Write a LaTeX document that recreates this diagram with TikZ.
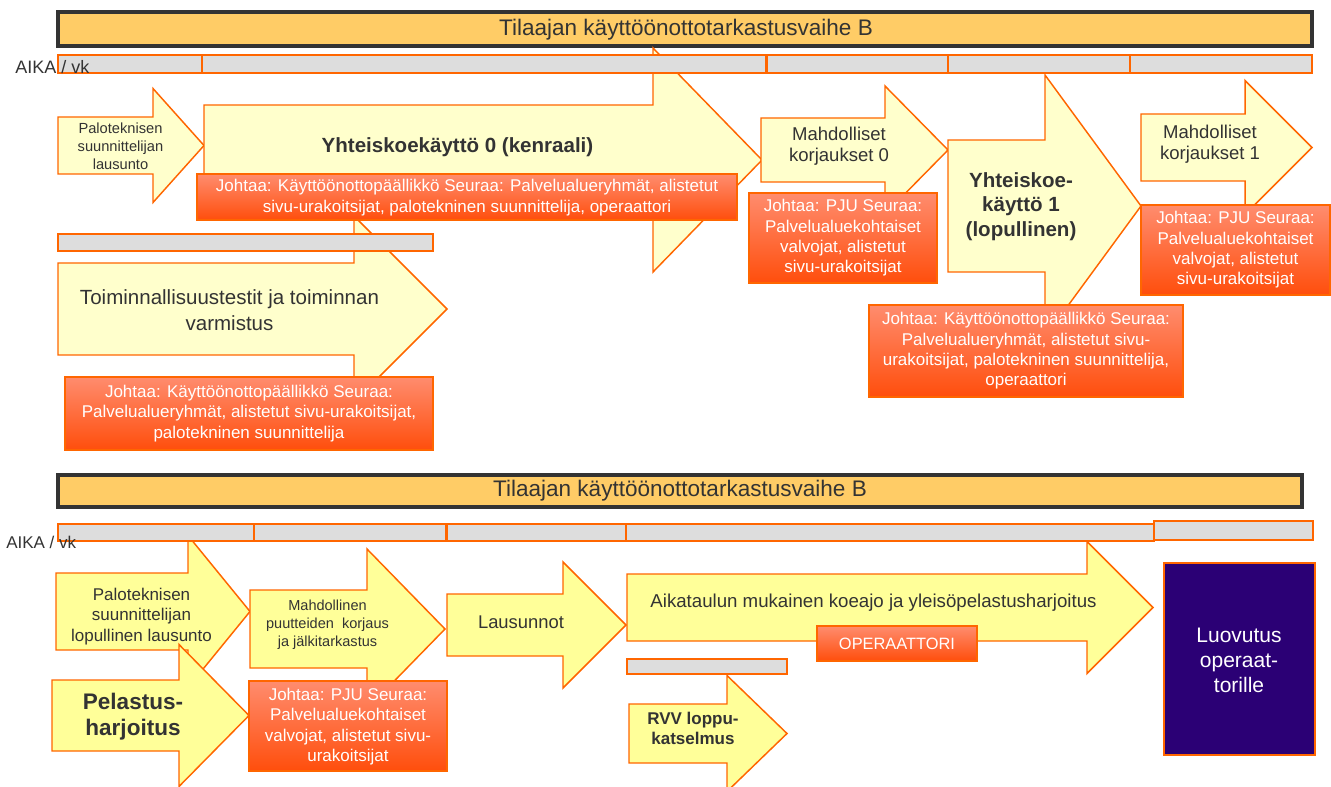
\documentclass[tikz,border=0pt]{standalone}
\usepackage{fontspec}
\setmainfont{Liberation Sans}
\definecolor{bannerfill}{HTML}{FFCC66}
\definecolor{bannerline}{HTML}{333333}
\definecolor{edge}{HTML}{FF6600}
\definecolor{paleyellow}{HTML}{FFFFCC}
\definecolor{brightyellow}{HTML}{FFFF99}
\definecolor{bargray}{HTML}{DDDDDD}
\definecolor{leadtop}{HTML}{FF8C6E}
\definecolor{leadbottom}{HTML}{FF4E0C}
\definecolor{ink}{HTML}{333333}
\definecolor{handover}{HTML}{2B0075}
% block arrow: style, left x, body top, body bottom, head base x, head half height, tip x
\newcommand{\blockarrow}[7]{%
  \path[#1] (#2,#3) -- (#5,#3) -- (#5,{(#3+#4)/2-#6}) -- (#7,{(#3+#4)/2})
    -- (#5,{(#3+#4)/2+#6}) -- (#5,#4) -- (#2,#4) -- cycle;}
\newcommand{\fpx}[2]{\fontsize{#1pt}{#2pt}\selectfont}
\begin{document}
\begin{tikzpicture}[x=0.75pt,y=-0.75pt,
  banner/.style={fill=bannerfill,draw=bannerline,line width=2.6pt},
  timebar/.style={fill=bargray,draw=edge,line width=1.1pt},
  palearrow/.style={fill=paleyellow,draw=edge,line width=1.1pt},
  brightarrow/.style={fill=brightyellow,draw=edge,line width=1.1pt},
  leadbox/.style={top color=leadtop,bottom color=leadbottom,draw=edge,line width=0.8pt},
  label/.style={inner sep=0pt,align=center,text=ink},
  leadtext/.style={inner sep=0pt,align=center,text=white,font=\fpx{12.75}{15.3}},
  bannertext/.style={inner sep=0pt,text=ink,font=\fpx{16.9}{20}}]
\useasboundingbox (0,0) rectangle (1331,787);
\clip (0,0) rectangle (1331,787);

% ---------- upper phase ----------
\path[banner] (58,12) rectangle (1312,46);
\node[bannertext] (banner1) at (686,29.5) {Tilaajan käyttöönottotarkastusvaihe B};

% general test run and fire-safety statement
\blockarrow{palearrow}{58}{117}{174}{153}{57}{204}
\node[label,font=\fpx{11}{13.5}] (fire1) at (120.5,146) {Paloteknisen\\suunnittelijan\\lausunto};
\blockarrow{palearrow}{204}{105}{215}{653}{112}{762}
\node[label,font=\bfseries\fpx{15.4}{18}] (run0) at (457.5,147) {Yhteiskoekäyttö 0 (kenraali)};

% functionality tests
\blockarrow{palearrow}{58}{263}{355}{354}{93}{447}
\node[label,font=\fpx{15.4}{19.5}] (func) at (229.5,310) {Toiminnallisuustestit ja toiminnan\\varmistus};

\path[leadbox] (197,174) rectangle (737,220);
\node[leadtext] (run0lead) at (467,197.5) {Johtaa: Käyttöönottopäällikkö Seuraa: Palvelualueryhmät, alistetut\\sivu-urakoitsijat, palotekninen suunnittelija, operaattori};

\path[timebar] (58,234) rectangle (433,251);
\path[leadbox] (65,377) rectangle (433,450);
\node[leadtext] (funclead) at (249,413.5) {Johtaa: Käyttöönottopäällikkö Seuraa:\\Palvelualueryhmät, alistetut sivu-urakoitsijat,\\palotekninen suunnittelija};

% corrections 0
\blockarrow{palearrow}{761}{118}{182}{885}{64}{948}
\node[label,font=\fpx{13.9}{16}] (fix0) at (839,146) {Mahdolliset\\korjaukset 0};
\path[leadbox] (749,193) rectangle (937,283);
\node[leadtext] (fix0lead) at (843,238) {Johtaa: PJU Seuraa:\\Palvelualuekohtaiset\\valvojat, alistetut\\sivu-urakoitsijat};

% final test run
\blockarrow{palearrow}{948}{140}{272}{1045}{131}{1141}
\node[label,font=\bfseries\fpx{15.4}{18.4}] (run1) at (1021,206.5) {Yhteiskoe-\\käyttö 1\\(lopullinen)};
\path[leadbox] (869,305) rectangle (1183,397);
\node[leadtext] (run1lead) at (1026,351) {Johtaa: Käyttöönottopäällikkö Seuraa:\\Palvelualueryhmät, alistetut sivu-\\urakoitsijat, palotekninen suunnittelija,\\operaattori};

% corrections 1
\blockarrow{palearrow}{1141}{114}{181}{1245}{67}{1312}
\node[label,font=\fpx{13.9}{16}] (fix1) at (1210,144) {Mahdolliset\\korjaukset 1};
\path[leadbox] (1141,205) rectangle (1330,295);
\node[leadtext] (fix1lead) at (1235.5,250) {Johtaa: PJU Seuraa:\\Palvelualuekohtaiset\\valvojat, alistetut\\sivu-urakoitsijat};

% time scale
\path[timebar] (58,55) rectangle (202,73);
\path[timebar] (202,55) rectangle (766,73);
\path[timebar] (767,55) rectangle (948,73);
\path[timebar] (948,55) rectangle (1130,73);
\path[timebar] (1130,55) rectangle (1312,73);
\node[inner sep=0pt,anchor=base west,text=ink,font=\fpx{13.5}{16}] (time1) at (15,74) {AIKA / vk};

% ---------- lower phase ----------
\path[banner] (58,475) rectangle (1302,507);
\node[bannertext] (banner2) at (680,491) {Tilaajan käyttöönottotarkastusvaihe B};

\blockarrow{brightarrow}{56}{573}{650}{188}{76}{250}
\node[label,font=\fpx{12.75}{15.4}] (fire2) at (141.5,616.5) {Paloteknisen\\suunnittelijan\\lopullinen lausunto};
\blockarrow{brightarrow}{52}{680}{751}{179}{71}{249}
\node[label,font=\bfseries\fpx{16.9}{19.5}] (rescue) at (133,717) {Pelastus-\\harjoitus};

\blockarrow{brightarrow}{250}{590}{668}{367}{80}{445}
\node[label,font=\fpx{10.9}{13.5}] (repair) at (327.5,625) {Mahdollinen\\puutteiden\ \ korjaus\\ja jälkitarkastus};
\path[leadbox] (249,681) rectangle (447,771);
\node[leadtext] (repairlead) at (348,726.5) {Johtaa: PJU Seuraa:\\Palvelualuekohtaiset\\valvojat, alistetut sivu-\\urakoitsijat};

\blockarrow{brightarrow}{447}{594}{656}{563}{63}{626}
\node[label,font=\fpx{13.8}{16}] (stmt) at (521,622) {Lausunnot};

\blockarrow{brightarrow}{627}{574}{641}{1087}{66}{1153}
\node[label,font=\fpx{14}{16}] (trial) at (873.5,603) {Aikataulun mukainen koeajo ja yleisöpelastusharjoitus};
\path[leadbox] (817,626) rectangle (977,661);
\node[leadtext,font=\fpx{12.3}{15}] (operator) at (897,643.5) {OPERAATTORI};

\path[timebar] (627,659) rectangle (787,674);
\blockarrow{brightarrow}{629}{704}{763}{727}{58}{787}
\node[label,font=\bfseries\fpx{12.75}{15}] (rvv) at (693,728) {RVV loppu-\\katselmus};

\path[fill=handover,draw=edge,line width=1.1pt] (1164,563) rectangle (1315,755);
\node[inner sep=0pt,align=center,text=white,font=\fpx{15.75}{18.75}] (handoff) at (1239,660) {Luovutus\\operaat-\\torille};

\path[timebar] (58,524) rectangle (254,541);
\path[timebar] (254,524) rectangle (446,541);
\path[timebar] (447,524) rectangle (626,541);
\path[timebar] (626,524) rectangle (1154,541);
\path[timebar] (1154,521) rectangle (1313,540);
\node[inner sep=0pt,anchor=base west,text=ink,font=\fpx{12.75}{15}] (time2) at (6,548) {AIKA / vk};
\end{tikzpicture}
\end{document}
